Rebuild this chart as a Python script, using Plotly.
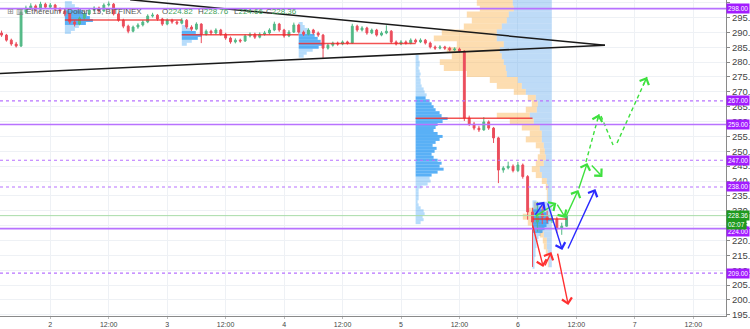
import plotly.graph_objects as go

# ---------------- data ----------------
tick_vals = [2, 2.5, 3, 3.5, 4, 4.5, 5, 5.5, 6, 6.5, 7, 7.5]
tick_text = ["2", "12:00", "3", "12:00", "4", "12:00", "5", "12:00", "6", "12:00", "7", "12:00"]

candle_start = 1 + 14 / 24          # first candle time (day units)
candle_step = 1 / 24                 # hourly candles

candle_open = [289.8, 289.1, 287.4, 286.1, 285.4, 296.8, 298.2, 298.9, 297.8, 299.5,
               298.5, 299.2, 297.8, 297.2, 296.2, 293.5, 292.8, 294.8, 296.2, 297.5,
               298.2, 297.2, 299.2, 299.5, 296.2, 294.1, 292.1, 290.4, 291.8, 292.5,
               293.5, 295.5, 295.8, 294.5, 292.8, 294.1, 293.5, 293.1, 294.1, 291.8,
               291.1, 292.8, 289.4, 290.4, 289.8, 290.8, 289.4, 288.1, 286.8, 287.4,
               287.1, 288.8, 289.4, 288.4, 289.4, 289.8, 290.8, 292.8, 290.8, 288.8,
               290.1, 292.5, 290.1, 289.4, 290.8, 289.8, 289.1, 284.7, 285.7, 286.4,
               286.1, 286.8, 286.4, 292.1, 290.8, 291.5, 289.8, 290.8, 289.1, 289.8,
               290.4, 286.8, 286.1, 286.8, 286.4, 287.4, 286.8, 287.4, 286.4, 285.1,
               284.7, 285.1, 284.7, 284.1, 284.4, 283.7, 261.2, 259.2, 257.8, 257.2,
               259.9, 257.8, 254.5, 243.7, 244.4, 245.0, 243.5, 245.4, 241.5, 229.6,
               226.2, 228.9, 227.9, 226.9, 227.2, 224.0, 224.82]
candle_high = [290.6, 289.5, 287.9, 286.8, 297.6, 299.0, 299.8, 299.4, 300.3, 300.0,
               299.9, 299.6, 298.4, 297.8, 296.6, 294.1, 295.3, 296.9, 298.1, 298.8,
               298.7, 299.8, 300.4, 299.9, 296.7, 294.6, 292.6, 292.3, 293.1, 294.1,
               296.1, 296.6, 296.2, 294.9, 294.7, 294.6, 294.0, 294.8, 294.5, 292.4,
               293.4, 293.1, 291.0, 290.9, 291.4, 291.2, 289.9, 288.6, 288.0, 287.9,
               289.4, 290.0, 289.9, 290.0, 290.5, 291.4, 293.6, 293.2, 291.2, 290.8,
               293.3, 292.9, 290.6, 291.4, 291.2, 290.3, 289.5, 286.3, 286.9, 286.9,
               287.3, 287.2, 292.9, 292.6, 292.1, 291.9, 291.3, 291.2, 290.4, 292.4,
               290.8, 287.3, 287.4, 287.3, 288.0, 287.9, 288.0, 287.8, 286.9, 285.6,
               285.7, 285.5, 285.2, 285.0, 284.9, 284.0, 262.0, 259.9, 258.6, 261.5,
               260.4, 258.2, 254.9, 245.0, 246.5, 245.6, 246.4, 245.9, 242.0, 231.0,
               233.0, 231.5, 230.0, 228.6, 228.0, 226.0, 228.76]
candle_low = [288.5, 286.9, 285.5, 284.9, 285.1, 296.2, 297.6, 297.0, 297.4, 297.9,
              297.9, 297.2, 296.5, 295.4, 292.8, 292.0, 292.4, 294.3, 295.8, 297.0,
              296.6, 296.9, 298.7, 295.7, 293.6, 291.4, 289.7, 290.0, 291.2, 292.0,
              293.1, 295.0, 293.9, 292.2, 292.4, 292.9, 292.5, 292.7, 291.2, 290.5,
              290.7, 286.4, 288.9, 289.1, 289.3, 288.9, 287.5, 286.2, 286.3, 286.5,
              286.8, 288.3, 287.8, 288.0, 288.9, 289.3, 290.4, 290.2, 288.2, 288.4,
              289.8, 289.6, 288.8, 289.0, 289.2, 288.5, 281.4, 284.2, 285.2, 285.5,
              285.7, 285.9, 286.1, 290.2, 290.3, 289.2, 289.4, 288.6, 288.7, 289.4,
              286.2, 285.6, 285.7, 285.9, 286.0, 286.3, 286.4, 285.9, 284.6, 284.1,
              284.3, 284.1, 283.6, 283.7, 283.2, 260.2, 258.5, 257.1, 256.5, 256.9,
              257.2, 252.8, 239.3, 242.8, 243.9, 242.9, 243.0, 240.8, 227.0, 211.1,
              223.0, 225.5, 225.8, 225.9, 222.5, 221.9, 224.66]
candle_close = [289.1, 287.4, 286.1, 285.4, 296.8, 298.2, 298.9, 297.8, 299.5, 298.5,
                299.2, 297.8, 297.2, 296.2, 293.5, 292.8, 294.8, 296.2, 297.5, 298.2,
                297.2, 299.2, 299.5, 296.2, 294.1, 292.1, 290.4, 291.8, 292.5, 293.5,
                295.5, 295.8, 294.5, 292.8, 294.1, 293.5, 293.1, 294.1, 291.8, 291.1,
                292.8, 289.4, 290.4, 289.8, 290.8, 289.4, 288.1, 286.8, 287.4, 287.1,
                288.8, 289.4, 288.4, 289.4, 289.8, 290.8, 292.8, 290.8, 288.8, 290.1,
                292.5, 290.1, 289.4, 290.8, 289.8, 289.1, 284.7, 285.7, 286.4, 286.1,
                286.8, 286.4, 292.1, 290.8, 291.5, 289.8, 290.8, 289.1, 289.8, 290.4,
                286.8, 286.1, 286.8, 286.4, 287.4, 286.8, 287.4, 286.4, 285.1, 284.7,
                285.1, 284.7, 284.1, 284.4, 283.7, 261.2, 259.2, 257.8, 257.2, 259.9,
                257.8, 254.5, 243.7, 244.4, 245.0, 243.5, 245.4, 241.5, 229.6, 226.2,
                228.9, 227.9, 226.9, 227.2, 224.0, 224.82, 228.36]

# horizontal levels
levels_solid = [298, 259, 224]
levels_dashed = [267, 247, 238, 209]
last_price = 228.36
countdown = "02:07"

# session volume profiles (start day, prices, volumes, value area)
prof1_start, prof1_prices = 2.125, [300, 299, 298, 297, 296, 295, 294, 293, 292, 291, 290]
prof1_vols = [7, 10, 14, 18, 22, 25, 28, 21, 14, 10, 6]
prof1_va = (292.5, 297.5)
prof2_start, prof2_prices = 3.125, [292, 291, 290, 289, 288, 287, 286]
prof2_vols = [5, 9, 14, 20, 16, 10, 5]
prof2_va = (287.5, 290.5)
prof3_start, prof3_prices = 4.125, [293, 292, 291, 290, 289, 288, 287, 286, 285, 284, 283, 282]
prof3_vols = [4, 6, 9, 12, 16, 19, 22, 25, 20, 14, 8, 5]
prof3_va = (284.5, 289.5)
prof4_start = 5.125
prof4_prices = list(range(282, 225, -1))
prof4_vols = [3, 3, 4, 4, 3, 4, 5, 4, 5, 5, 6, 8, 9, 11, 10, 14, 16, 18, 20, 24,
              26, 32, 27, 22, 20, 18, 22, 27, 24, 20, 17, 21, 19, 16, 18, 22, 26, 24, 28, 22,
              16, 14, 15, 12, 6, 3, 3, 3, 3, 2, 3, 5, 8, 9, 7, 8, 5]
prof4_va = (241.5, 268.5)
prof5_start = 6.125
prof5_prices = list(range(233, 210, -1))
prof5_vols = [4, 6, 8, 10, 14, 16, 20, 16, 14, 12, 10, 8, 6, 5, 4, 4, 3, 3, 3, 2, 2, 2, 2]
prof5_va = (222.5, 230.5)

# points of control
poc_start = [2.125, 3.125, 4.125, 5.125, 6.125]
poc_end = [3.125, 4.125, 5.125, 6.125, 6.42]
poc_price = [294.2, 289.2, 286.3, 261.1, 227.2]

# visible range volume profile (anchored right)
vpvr_anchor = 6.29
vpvr_prices = list(range(300, 210, -2))
vpvr_total = [75, 72, 85, 80, 88, 110, 118, 95, 105, 100, 112, 108, 85, 62, 55, 38, 24, 20, 26, 55,
              42, 30, 22, 26, 16, 12, 14, 16, 20, 16, 10, 6, 5, 5, 18, 24, 29, 24, 15, 12,
              9, 8, 6, 4, 4]
vpvr_up = [39, 38, 43, 45, 50, 55, 55, 48, 52, 50, 48, 46, 45, 34, 30, 26, 16, 14, 15, 22,
           18, 12, 10, 10, 8, 7, 6, 8, 12, 10, 5, 4, 4, 4, 14, 17, 19, 16, 10, 8,
           5, 5, 4, 3, 3]

# triangle drawing
tri_upper_x, tri_upper_y = [2.683, 6.745], [301.0, 285.7]
tri_lower_x, tri_lower_y = [1.570, 6.745], [276.2, 285.7]

# scenario arrows (x0, y0, x1, y1)
green_arrows = [(6.140, 227.9, 6.329, 232.6), (6.329, 232.6, 6.406, 227.6),
                (6.406, 227.6, 6.517, 237.0), (6.517, 237.0, 6.594, 246.1),
                (6.620, 245.7, 6.723, 241.4)]
green_dashed_arrows = [(6.582, 246.4, 6.694, 262.5), (6.711, 261.9, 6.814, 252.1),
                       (6.848, 252.8, 7.104, 275.0)]
blue_arrows = [(6.140, 228.2, 6.226, 233.0), (6.251, 233.0, 6.380, 216.8),
               (6.423, 216.8, 6.663, 237.3)]
red_arrows = [(6.123, 225.6, 6.217, 211.1), (6.226, 211.1, 6.286, 216.1),
              (6.337, 216.1, 6.431, 198.3)]

legend_name = "Ethereum / Dollar, 15, BITFINEX"
ohlc_letters = ["O", "H", "L", "C"]
ohlc_values = [224.82, 228.76, 224.66, 228.36]

# ---------------- styling ----------------
FONT = "Liberation Sans, Arial, sans-serif"
PURPLE_LINE = "#b872ff"
PURPLE_LABEL = "#a21cff"
GREEN_LABEL = "#1f9a1f"
VOL_TO_DAYS = 1 / 116.9
PLOT_W = 726

fig = go.Figure()

# VPVR: orange (down) further from anchor, blue (up) next to anchor
fig.add_trace(go.Bar(
    orientation="h", y=vpvr_prices,
    x=[(t - u) * VOL_TO_DAYS for t, u in zip(vpvr_total, vpvr_up)],
    base=[vpvr_anchor - t * VOL_TO_DAYS for t in vpvr_total],
    width=2.0, marker=dict(color="rgba(250,180,80,0.45)", line=dict(width=0)),
    hoverinfo="skip", showlegend=False))
fig.add_trace(go.Bar(
    orientation="h", y=vpvr_prices,
    x=[u * VOL_TO_DAYS for u in vpvr_up],
    base=[vpvr_anchor - u * VOL_TO_DAYS for u in vpvr_up],
    width=2.0, marker=dict(color="rgba(100,170,235,0.42)", line=dict(width=0)),
    hoverinfo="skip", showlegend=False))

def add_profile(start, prices, vols, va):
    colors = ["rgba(33,150,243,0.75)" if va[0] <= p <= va[1] else "rgba(33,150,243,0.33)"
              for p in prices]
    fig.add_trace(go.Bar(
        orientation="h", y=prices, x=[v * VOL_TO_DAYS for v in vols],
        base=[start] * len(prices), width=1.0,
        marker=dict(color=colors, line=dict(width=0)),
        hoverinfo="skip", showlegend=False))

add_profile(prof1_start, prof1_prices, prof1_vols, prof1_va)
add_profile(prof2_start, prof2_prices, prof2_vols, prof2_va)
add_profile(prof3_start, prof3_prices, prof3_vols, prof3_va)
add_profile(prof4_start, prof4_prices, prof4_vols, prof4_va)
add_profile(prof5_start, prof5_prices, prof5_vols, prof5_va)

# candles
candle_x = [candle_start + i * candle_step for i in range(len(candle_close))]
fig.add_trace(go.Candlestick(
    x=candle_x, open=candle_open, high=candle_high, low=candle_low, close=candle_close,
    increasing=dict(line=dict(color="#53b987", width=1), fillcolor="#53b987"),
    decreasing=dict(line=dict(color="#eb4d5c", width=1), fillcolor="#eb4d5c"),
    whiskerwidth=0, hoverinfo="skip", showlegend=False))

# POC lines
for xs, xe, p in zip(poc_start, poc_end, poc_price):
    fig.add_trace(go.Scatter(x=[xs, xe], y=[p, p], mode="lines",
                             line=dict(color="rgba(240,40,40,0.8)", width=1.5),
                             hoverinfo="skip", showlegend=False))

# triangle
fig.add_trace(go.Scatter(x=tri_upper_x, y=tri_upper_y, mode="lines",
                         line=dict(color="#1a1a1a", width=1.5), hoverinfo="skip", showlegend=False))
fig.add_trace(go.Scatter(x=tri_lower_x, y=tri_lower_y, mode="lines",
                         line=dict(color="#1a1a1a", width=1.5), hoverinfo="skip", showlegend=False))

# horizontal levels
for p in levels_solid:
    fig.add_shape(type="line", xref="paper", x0=0, x1=1, yref="y", y0=p, y1=p,
                  line=dict(color=PURPLE_LINE, width=1.6))
for p in levels_dashed:
    fig.add_shape(type="line", xref="paper", x0=0, x1=1, yref="y", y0=p, y1=p,
                  line=dict(color=PURPLE_LINE, width=1.2, dash="3px,3px"))
fig.add_shape(type="line", xref="paper", x0=0, x1=1, yref="y", y0=last_price, y1=last_price,
              line=dict(color="#a9dca9", width=1))

# arrows
def add_arrow(seg, color):
    x0, y0, x1, y1 = seg
    fig.add_annotation(x=x1, y=y1, ax=x0, ay=y0, xref="x", yref="y", axref="x", ayref="y",
                       text="", showarrow=True, arrowhead=4, arrowsize=1.4, arrowwidth=1.4,
                       arrowcolor=color, standoff=0, startstandoff=0)

for seg in green_arrows:
    add_arrow(seg, "#3ee03e")
for seg in blue_arrows:
    add_arrow(seg, "#2a2aff")
for seg in red_arrows:
    add_arrow(seg, "#ff3030")
for x0, y0, x1, y1 in green_dashed_arrows:
    fig.add_trace(go.Scatter(x=[x0, x1], y=[y0, y1], mode="lines",
                             line=dict(color="#3ee03e", width=1.4, dash="4px,3px"),
                             hoverinfo="skip", showlegend=False))
    add_arrow((x1 - 0.15 * (x1 - x0), y1 - 0.15 * (y1 - y0), x1, y1), "#3ee03e")

# right-axis labels
def axis_label(p, text, bg, yshift=0):
    fig.add_annotation(xref="paper", x=1, xanchor="left", yref="y", y=p, yshift=yshift,
                       text=text, showarrow=False, bgcolor=bg, borderpad=1,
                       font=dict(family=FONT, size=6.5, color="white"))

for p in levels_solid + levels_dashed:
    axis_label(p, f"{p:.2f}", PURPLE_LABEL, -3 if p == 224 else 0)
axis_label(last_price, f"{last_price:.2f}", GREEN_LABEL)
axis_label(last_price, countdown, GREEN_LABEL, -9)

# legend text
fig.add_annotation(xref="paper", yref="paper", x=5 / PLOT_W, y=1, yshift=-5, xanchor="left",
                   yanchor="top", showarrow=False, text="⊞ ▥",
                   font=dict(family="DejaVu Sans", size=8, color="#888"))
fig.add_annotation(xref="paper", yref="paper", x=24 / PLOT_W, y=1, yshift=-5, xanchor="left",
                   yanchor="top", showarrow=False, text=legend_name,
                   font=dict(family=FONT, size=8, color="#555"))
for px, letter, val in zip([160, 196, 232, 264], ohlc_letters, ohlc_values):
    fig.add_annotation(xref="paper", yref="paper", x=px / PLOT_W, y=1, yshift=-5,
                       xanchor="left", yanchor="top", showarrow=False,
                       text=f"{letter}<span style='color:#3fa35a'>{val:.2f}</span>",
                       font=dict(family=FONT, size=8, color="#555"))

fig.update_layout(
    width=750, height=329,
    margin=dict(l=0, r=24, t=0, b=13, autoexpand=False),
    paper_bgcolor="white", plot_bgcolor="white",
    barmode="overlay", boxgap=0.45, hovermode=False, showlegend=False,
    font=dict(family=FONT),
    xaxis=dict(range=[1.570, 7.780], tickvals=tick_vals, ticktext=tick_text,
               showgrid=True, gridcolor="#eef1f5", gridwidth=1, zeroline=False,
               showline=True, linecolor="#8a8a8a", linewidth=1,
               ticks="outside", ticklen=2, tickcolor="#bbbbbb",
               tickfont=dict(family=FONT, size=7, color="#444"), automargin=False,
               rangeslider=dict(visible=False), fixedrange=True),
    yaxis=dict(range=[194.6, 300.9], side="right", tick0=0, dtick=5, tickformat=".2f",
               showgrid=True, gridcolor="#eef1f5", gridwidth=1, zeroline=False,
               showline=True, linecolor="#8a8a8a", linewidth=1,
               ticks="outside", ticklen=3, tickcolor="#888", automargin=False,
               tickfont=dict(family=FONT, size=9.5, color="#444"), fixedrange=True),
)

fig.write_html("out.html")
